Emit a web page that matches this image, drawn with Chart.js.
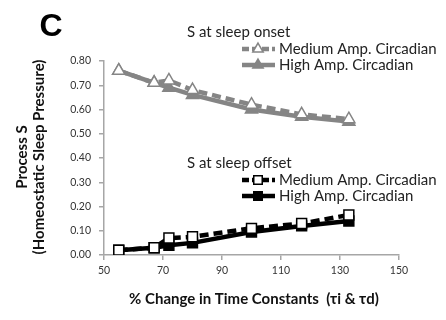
<!DOCTYPE html>
<html>
<head>
<meta charset="utf-8">
<script src="https://cdn.jsdelivr.net/npm/chart.js@4/dist/chart.umd.min.js"></script>
<style>
  html, body { margin: 0; background: #fff; }
</style>
</head>
<body>
<canvas id="chart" width="446" height="320"></canvas>
<script>
// values
const timeConstants = [55, 67, 72, 80, 100, 117, 133];
const onsetMedium = [0.76, 0.71, 0.72, 0.68, 0.62, 0.58, 0.56];
const onsetHigh = [0.76, 0.71, 0.69, 0.66, 0.60, 0.57, 0.55];
const offsetMedium = [0.02, 0.03, 0.07, 0.075, 0.11, 0.13, 0.165];
const offsetHigh = [0.02, 0.03, 0.04, 0.05, 0.095, 0.12, 0.14];
const xTicks = [50, 70, 90, 110, 130, 150];
const yTicks = [0, 0.1, 0.2, 0.3, 0.4, 0.5, 0.6, 0.7, 0.8];

const panelLabel = 'C';
const onsetTitle = 'S at sleep onset';
const offsetTitle = 'S at sleep offset';
const mediumLabel = 'Medium Amp. Circadian';
const highLabel = 'High Amp. Circadian';
const xTitle = '% Change in Time Constants  (\u03c4i & \u03c4d)';
const yTitle = ['Process S', '(Homeostatic Sleep Pressure)'];

const GRAY = '#858585';
const BLACK = '#000000';
const FONT = 'Lato, "Open Sans", sans-serif';

const toPoints = ys => ys.map((y, i) => ({ x: timeConstants[i], y }));

const series = (label, values, color, open, style, group) => ({
  label,
  data: toPoints(values),
  group,
  showLine: true,
  borderColor: color,
  borderWidth: 4.5,
  borderDash: open ? [9, 5] : [],
  tension: 0,
  pointStyle: style,
  pointRadius: 7,
  pointBackgroundColor: open ? '#ffffff' : color,
  pointBorderColor: color,
  pointBorderWidth: 1.5,
});

// text + legends drawn on top of the chart
const annotations = {
  id: 'annotations',
  afterDraw(chart) {
    const ctx = chart.ctx;
    ctx.save();

    ctx.fillStyle = '#000';
    ctx.font = 'bold 32px "Liberation Sans", Arial, sans-serif';
    ctx.textAlign = 'center';
    ctx.textBaseline = 'middle';
    ctx.fillText(panelLabel, 51, 27);

    const groups = [
      { title: onsetTitle, name: 'onset', y: 32, rows: [49, 65] },
      { title: offsetTitle, name: 'offset', y: 163, rows: [180, 196] },
    ];
    groups.forEach(g => {
      ctx.fillStyle = '#222';
      ctx.font = '15px ' + FONT;
      ctx.textAlign = 'left';
      ctx.fillText(g.title, 187, g.y);
      const items = chart.data.datasets.filter(d => d.group === g.name);
      items.forEach((d, i) => {
        const y = g.rows[i];
        ctx.save();
        ctx.strokeStyle = d.borderColor;
        ctx.lineWidth = d.borderWidth;
        ctx.setLineDash(d.borderDash.length ? [7, 3] : []);
        ctx.beginPath();
        ctx.moveTo(242, y);
        ctx.lineTo(275, y);
        ctx.stroke();
        ctx.setLineDash([]);
        ctx.fillStyle = d.pointBackgroundColor;
        ctx.strokeStyle = d.pointBorderColor;
        ctx.lineWidth = d.pointBorderWidth;
        Chart.helpers.drawPoint(ctx, {
          pointStyle: d.pointStyle,
          radius: d.pointRadius - 1,
          rotation: 0,
          borderWidth: d.pointBorderWidth,
        }, 258, y);
        ctx.restore();
        ctx.fillStyle = '#222';
        ctx.font = '15px ' + FONT;
        ctx.fillText(d.label, 279, y);
      });
    });

    ctx.fillStyle = '#111';
    ctx.font = 'bold 15px ' + FONT;
    ctx.textAlign = 'center';
    ctx.fillText(xTitle, 254, 299);

    ctx.font = 'bold 15px ' + FONT;
    ctx.translate(30, 157);
    ctx.rotate(-Math.PI / 2);
    ctx.fillText(yTitle[0], 0, -8);
    ctx.fillText(yTitle[1], 0, 9);
    ctx.restore();
  },
};

const axisStyle = {
  grid: { display: true, drawOnChartArea: false, drawTicks: true, tickLength: 5, color: '#a6a6a6', lineWidth: 1.5 },
  border: { display: true, color: '#a6a6a6', width: 1.5 },
};

new Chart(document.getElementById('chart'), {
  type: 'scatter',
  data: {
    datasets: [
      series(mediumLabel, onsetMedium, GRAY, true, 'triangle', 'onset'),
      series(highLabel, onsetHigh, GRAY, false, 'triangle', 'onset'),
      series(mediumLabel, offsetMedium, BLACK, true, 'rect', 'offset'),
      series(highLabel, offsetHigh, BLACK, false, 'rect', 'offset'),
    ],
  },
  options: {
    responsive: false,
    animation: false,
    layout: { padding: { left: 0, top: 61, right: 47, bottom: 0 } },
    plugins: {
      legend: { display: false },
      tooltip: { enabled: false },
    },
    scales: {
      x: {
        type: 'linear',
        min: 50,
        max: 150,
        ...axisStyle,
        afterBuildTicks: s => { s.ticks = xTicks.map(v => ({ value: v })); },
        afterFit: s => { s.height = 65; },
        ticks: { padding: 4, color: '#333', font: { family: FONT, size: 10.5 } },
      },
      y: {
        min: 0,
        max: 0.8,
        ...axisStyle,
        afterBuildTicks: s => { s.ticks = yTicks.map(v => ({ value: v })); },
        afterFit: s => { s.width = 104; },
        ticks: {
          padding: 8,
          color: '#333',
          font: { family: FONT, size: 10.5 },
          callback: v => v.toFixed(2),
        },
      },
    },
  },
  plugins: [annotations],
});
</script>
</body>
</html>
